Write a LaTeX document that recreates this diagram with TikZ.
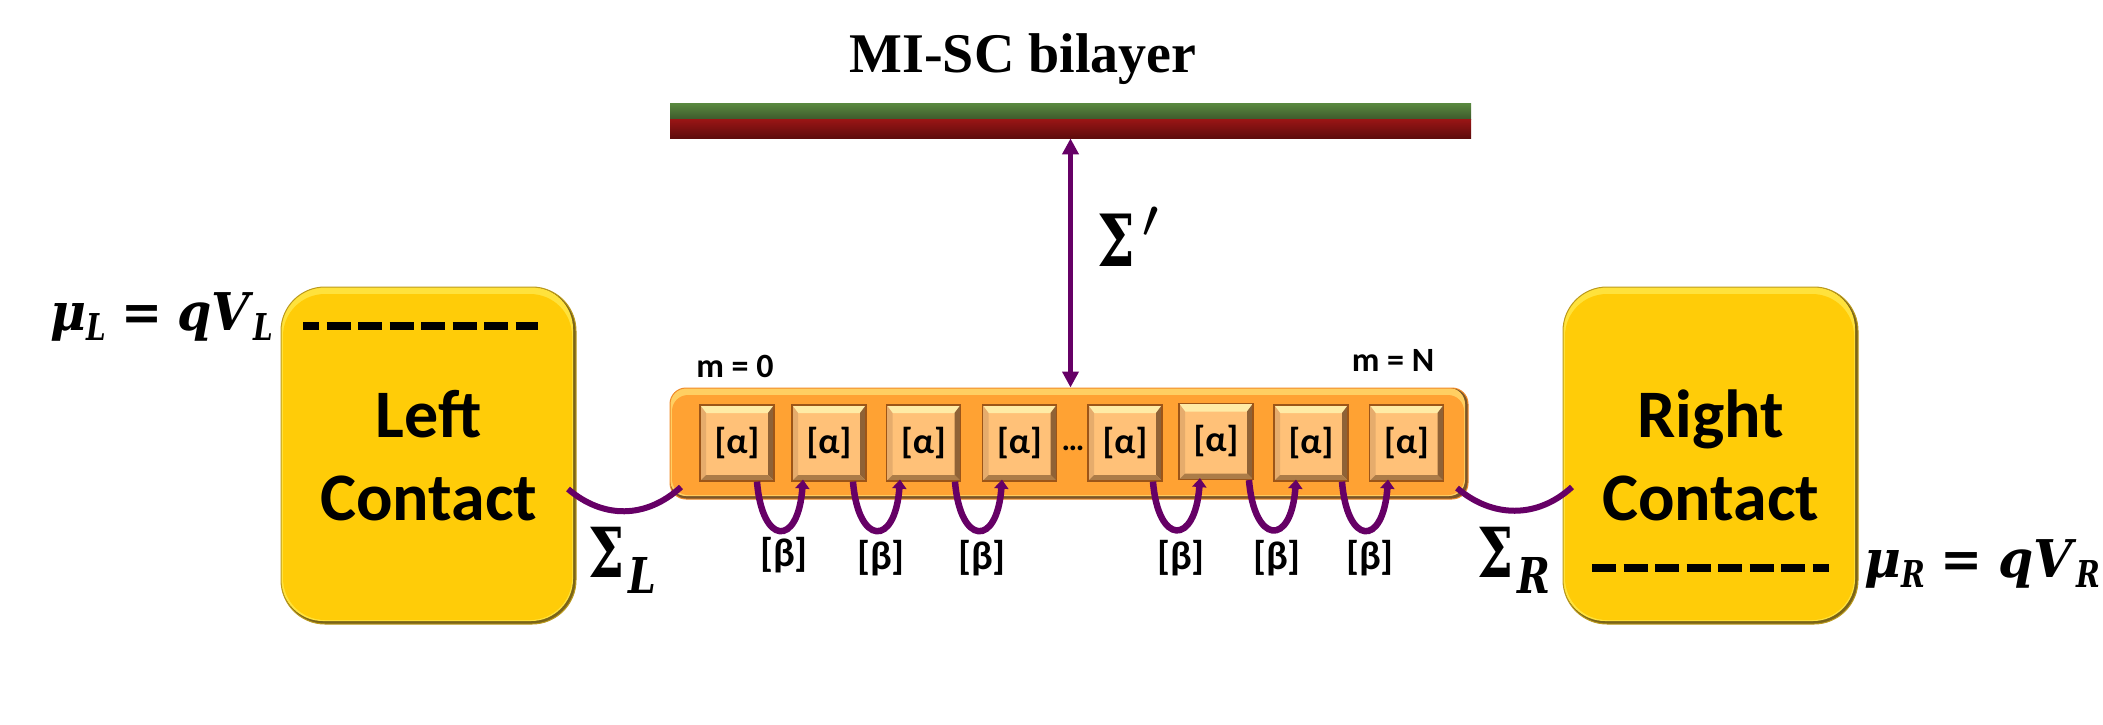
\documentclass[tikz,border=0pt]{standalone}
\usepackage{graphicx}
\usepackage[no-math]{fontspec}
\usepackage{xcolor}
\usetikzlibrary{arrows.meta}
\newfontfamily\calibri{Carlito}
\newfontfamily\timesbold{Liberation Serif}
\newfontfamily\sigmafont{DejaVu Serif}

\definecolor{contactmain}{HTML}{FFCC08}
\definecolor{contactglow}{HTML}{FFE23C}
\definecolor{contactdark}{HTML}{7A6418}
\definecolor{contactrim}{HTML}{BC9A1C}
\definecolor{chainmain}{HTML}{FFA233}
\definecolor{chainglow}{HTML}{FFCF62}
\definecolor{chaindark}{HTML}{7A5528}
\definecolor{chainrim}{HTML}{F08A28}
\definecolor{cellmain}{HTML}{FFC178}
\definecolor{cellglow}{HTML}{FFEBA6}
\definecolor{cellside}{HTML}{E6AC6C}
\definecolor{cellshade}{HTML}{8F6236}
\definecolor{cellfoot}{HTML}{AC7C48}
\definecolor{cellrim}{HTML}{9C5518}
\definecolor{hoppurple}{HTML}{660066}
\definecolor{greentop}{HTML}{5A8A40}
\definecolor{greenmid}{HTML}{8ABB66}
\definecolor{greenfoot}{HTML}{3E5A2C}
\definecolor{redtop}{HTML}{9A1515}
\definecolor{redmid}{HTML}{B52525}
\definecolor{redfoot}{HTML}{5E0C0C}

\newcommand{\softedge}[3]{%
  \fill[#1,rounded corners=#3] ([shift={(0pt,1.5pt)}]path picture bounding box.south west) rectangle ([shift={(-1.5pt,0pt)}]path picture bounding box.north east);
  \fill[#2,rounded corners=#3] ([shift={(1pt,2pt)}]path picture bounding box.south west) rectangle ([shift={(-2pt,-3.5pt)}]path picture bounding box.north east);
}
\newcommand{\cellbevel}{%
  \fill[cellglow] (path picture bounding box.north west) -- (path picture bounding box.north east) -- ([shift={(-3pt,-4pt)}]path picture bounding box.north east) -- ([shift={(3pt,-4pt)}]path picture bounding box.north west) -- cycle;
  \fill[cellside] (path picture bounding box.north west) -- (path picture bounding box.south west) -- ([shift={(3pt,3pt)}]path picture bounding box.south west) -- ([shift={(3pt,-4pt)}]path picture bounding box.north west) -- cycle;
  \fill[cellshade] (path picture bounding box.north east) -- (path picture bounding box.south east) -- ([shift={(-3pt,3pt)}]path picture bounding box.south east) -- ([shift={(-3pt,-4pt)}]path picture bounding box.north east) -- cycle;
  \fill[cellfoot] (path picture bounding box.south west) -- (path picture bounding box.south east) -- ([shift={(-3pt,3pt)}]path picture bounding box.south east) -- ([shift={(3pt,3pt)}]path picture bounding box.south west) -- cycle;
}
\newcommand{\bigsigma}[1]{\scalebox{.74}[1]{\sigmafont\bfseries\fontsize{#1}{#1}\selectfont Σ}}
\newcommand{\lowsub}[3]{\raisebox{-#2}{\scalebox{.8}[1]{\sigmafont\bfseries\itshape\fontsize{#1}{#1}\selectfont #3}}}
\newcommand{\levelsum}[3]{\resizebox{#1}{\height}{\sigmafont\bfseries\fontsize{26}{26}\selectfont\textit{μ}\lowsub{18.5pt}{5pt}{#2}\hspace{8pt}=\hspace{8pt}\textit{qV}\lowsub{18.5pt}{5pt}{#3}}}

\tikzset{
  contactbox/.style={rectangle,rounded corners=22pt,draw=contactrim,line width=.5pt,fill=contactdark,
    minimum width=147.5pt,minimum height=168.5pt,inner sep=0pt,align=center,
    font=\calibri\bfseries\fontsize{34}{41.5}\selectfont,
    path picture={\softedge{contactglow}{contactmain}{21pt}}},
  chainbox/.style={rectangle,rounded corners=8pt,draw=chainrim,line width=.5pt,fill=chaindark,
    minimum width=399pt,minimum height=55.5pt,inner sep=0pt,
    path picture={\softedge{chainglow}{chainmain}{8pt}}},
  cellbox/.style={rectangle,draw=cellrim,line width=.6pt,fill=cellmain,
    minimum width=37pt,minimum height=38pt,inner sep=0pt,
    font=\calibri\bfseries\fontsize{18}{20}\selectfont,
    path picture={\cellbevel}},
  greenlayer/.style={rectangle,minimum width=400.5pt,minimum height=8pt,inner sep=0pt,
    top color=greentop,middle color=greenmid,bottom color=greenfoot},
  redlayer/.style={rectangle,minimum width=400.5pt,minimum height=9.5pt,inner sep=0pt,
    top color=redtop,middle color=redmid,bottom color=redfoot},
  smalltext/.style={anchor=base,font=\calibri\bfseries\fontsize{17}{20}\selectfont},
  hoptext/.style={font=\calibri\bfseries\fontsize{20}{22}\selectfont},
  bigmath/.style={anchor=base west,inner sep=0pt},
  levelmath/.style={anchor=base west,inner sep=0pt},
  fermilevel/.style={line width=3.75pt,dash pattern=on 12pt off 3.75pt,dash phase=4pt},
  tunnelarrow/.style={hoppurple,line width=2.75pt,{Triangle[length=8pt,width=8pt]}-{Triangle[length=8pt,width=8pt]}},
  leadcurve/.style={hoppurple,line width=3pt},
  hoparrow/.style={hoppurple,line width=3.25pt,-{Triangle[length=4.5pt,width=7pt]}}
}

\begin{document}
\begin{tikzpicture}[x=0.5pt,y=-0.5pt]
  \useasboundingbox (0,0) rectangle (2103,724);

  \node[anchor=base,inner sep=0pt,font=\timesbold\bfseries\fontsize{28}{30}\selectfont] (title) at (1023,72) {MI-SC bilayer};
  \node[greenlayer] (greenbar) at (1070.5,111) {};
  \node[redlayer] (redbar) at (1070.5,128.5) {};

  \node[contactbox] (leftcontact) at (428.5,455.5) {Left\\Contact};
  \node[contactbox] (rightcontact) at (1710.5,455.5) {Right\\Contact};
  \node[chainbox] (chain) at (1069,443.5) {};

  \foreach \i/\x/\y in {1/737/443,2/829/443,3/923.5/443,4/1019.5/443,5/1125/443,6/1216/441.5,7/1311/443,8/1406.5/443}
    \node[cellbox] (cell\i) at (\x,\y) {[α]};

  \node[anchor=base,inner sep=0pt,font=\calibri\bfseries\fontsize{16}{20}\selectfont] (dots) at (1073,450) {…};
  \node[smalltext] (firstsite) at (735,377) {m = 0};
  \node[smalltext] (lastsite) at (1393,371) {m = N};

  % levels in the contacts
  \coordinate (muLa) at (303,326);
  \coordinate (muLb) at (538,326);
  \coordinate (muRa) at (1592,568);
  \coordinate (muRb) at (1829,568);
  \draw[fermilevel] (muLa) -- (muLb);
  \draw[fermilevel,dash phase=0pt] (muRa) -- (muRb);

  \node[levelmath] (muleft) at (50,330) {\levelsum{111.5pt}{L}{L}};
  \node[levelmath] (muright) at (1864,577) {\levelsum{118pt}{R}{R}};

  \draw[tunnelarrow] (redbar.south) -- (redbar.south |- chain.north);
  \node[bigmath] (sigmatop) at (1097,266) {\bigsigma{36}\hspace{3pt}\scalebox{3.9}{$'$}};

  \coordinate (leadLa) at (568,489);
  \coordinate (leadLb) at (681,487);
  \coordinate (leadRa) at (1457,488);
  \coordinate (leadRb) at (1572,487);
  \draw[leadcurve] (leadLa) .. controls +(35,30) and +(-35,32) .. (leadLb);
  \draw[leadcurve] (leadRa) .. controls +(35,30) and +(-35,32) .. (leadRb);
  \node[bigmath] (sigmaleft) at (588,577) {\bigsigma{34.5}\hspace{2pt}\lowsub{24.7pt}{8pt}{L}};
  \node[bigmath] (sigmaright) at (1477,577) {\bigsigma{34.5}\hspace{2pt}\lowsub{24.7pt}{8pt}{R}};

  % hopping between neighbouring cells
  \foreach \a/\b/\s/\e in {1/2/10/-13,2/3/12/-11.75,3/4/15.75/-8.75,5/6/14/-8,6/7/16.5/-7.5,7/8/15.5/-9.25}
    \draw[hoparrow] ([xshift=\s pt]cell\a.south) .. controls +(5,64) and +(-5,68) .. ([xshift=\e pt,yshift=1pt]cell\b.south);

  \foreach \n/\x/\y in {1/784/555,2/881/558,3/982/558,4/1181/558,5/1277/558,6/1370/558}
    \node[hoptext] (hop\n) at (\x,\y) {[β]};
\end{tikzpicture}
\end{document}
